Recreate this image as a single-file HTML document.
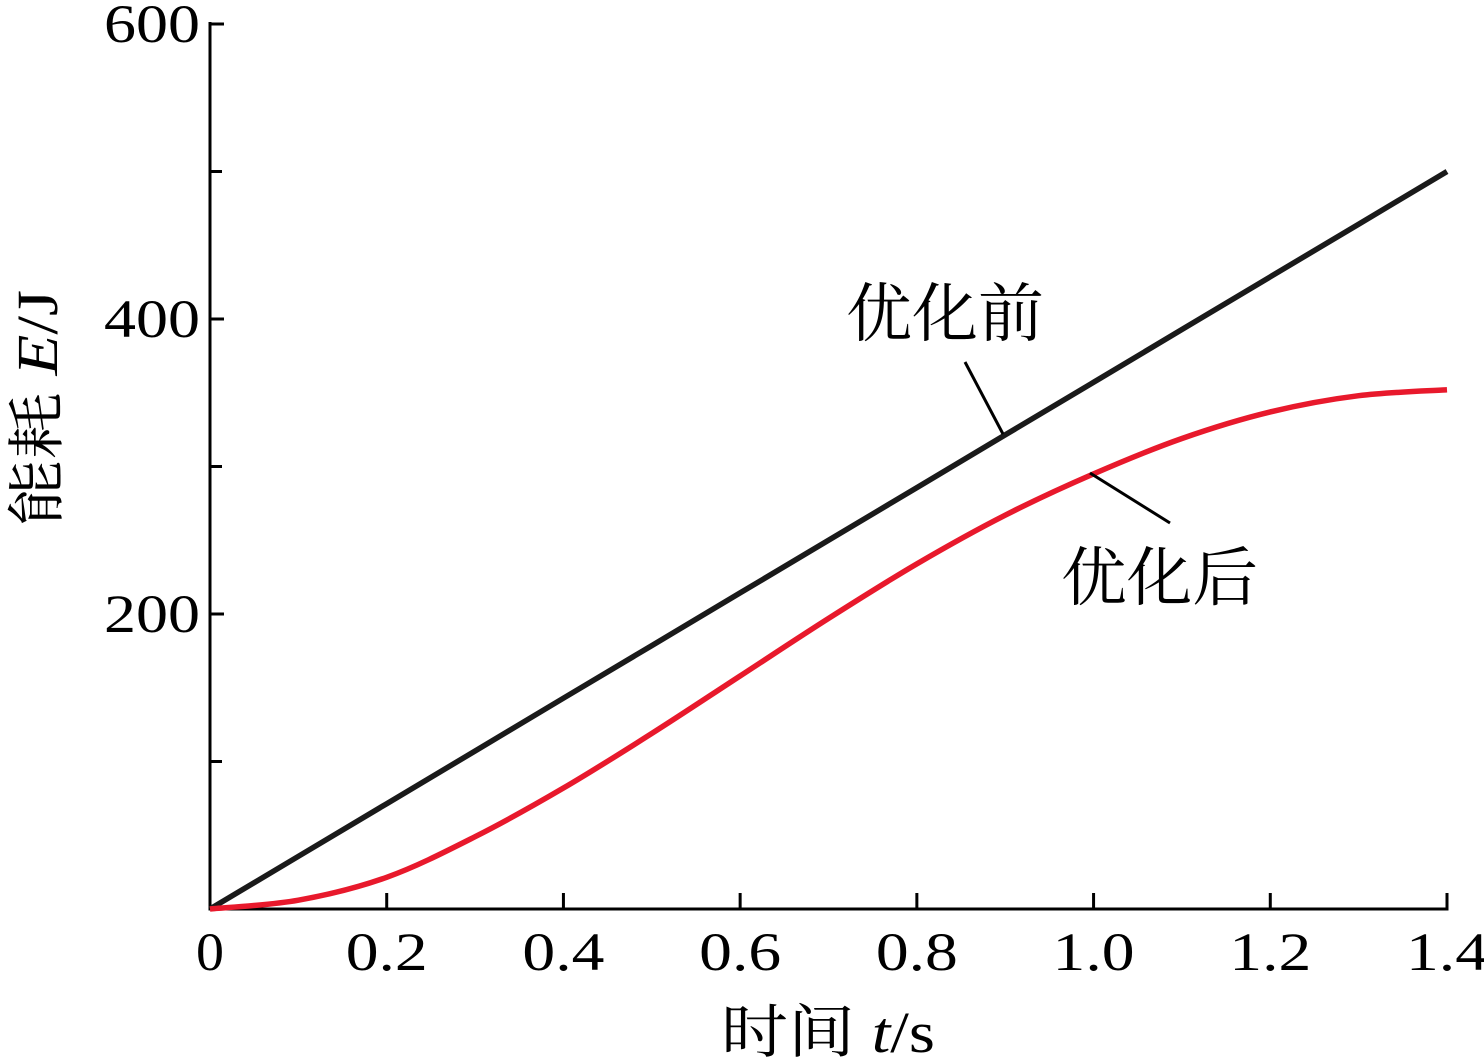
<!DOCTYPE html>
<html><head><meta charset="utf-8"><style>
html,body{margin:0;padding:0;background:#fff;}
svg{display:block;}
text{font-family:"Liberation Serif","Noto Serif CJK SC",serif;fill:#000;}
</style></head><body>
<svg id="chart" width="1484" height="1059" viewBox="0 0 1484 1059" xmlns="http://www.w3.org/2000/svg">
<g id="axes"></g>
<g id="series"></g>
<g id="labels"></g>
</svg>
<script>
const xTicks = [0, 0.2, 0.4, 0.6, 0.8, 1.0, 1.2, 1.4];
const xTickLabels = ["0", "0.2", "0.4", "0.6", "0.8", "1.0", "1.2", "1.4"];
const yTicks = [200, 400, 600];
const yTickLabels = ["200", "400", "600"];
const yMinorTicks = [100, 300, 500];
const timeValues = [0, 0.1, 0.2, 0.3, 0.4, 0.5, 0.6, 0.7, 0.8, 0.9, 1.0, 1.1, 1.2, 1.3, 1.4];
const beforeValues = [0, 35.7, 71.4, 107.1, 142.9, 178.6, 214.3, 250, 285.7, 321.4, 357.1, 392.9, 428.6, 464.3, 500];
const afterValues = [0, 6, 21.5, 49, 82, 119, 158, 197, 234, 267, 295, 319, 337, 348, 352];

const NS = "http://www.w3.org/2000/svg";
const X0 = 210, X1 = 1447, Y0 = 909, Y1 = 24;
function xs(v){ return X0 + v/1.4*(X1-X0); }
function ys(v){ return Y0 - v/600*(Y0-Y1); }
function mk(tag, attrs, parent){
  const e = document.createElementNS(NS, tag);
  for (const k in attrs) e.setAttribute(k, attrs[k]);
  parent.appendChild(e); return e;
}
const axes = document.getElementById('axes');
const series = document.getElementById('series');
const labels = document.getElementById('labels');

const yAxis = mk('line', {x1:X0, y1:Y1-2, x2:X0, y2:Y0+1.5, stroke:'#000','stroke-width':3}, axes);


const xAxis = mk('line', {x1:X0-1.5, y1:Y0, x2:X1+1.5, y2:Y0, stroke:'#000','stroke-width':3}, axes);



xTicks.forEach((v,i)=>{
  const x = xs(v);
  if (i>0){
    const t = mk('line', {x1:x, y1:Y0, x2:x, y2:Y0-16, stroke:'#000','stroke-width':3}, axes);
    
    
  }
  const s = xTickLabels[i];
  const lb = mk('text', {x:x, y:970, 'font-size':54, 'text-anchor':'middle', textLength: s.length===1?28:82, lengthAdjust:'spacingAndGlyphs'}, labels);
  lb.textContent = s;
  
  
});
yTicks.forEach((v,i)=>{
  const y = ys(v);
  const t = mk('line', {x1:X0, y1:y, x2:X0+14, y2:y, stroke:'#000','stroke-width':3}, axes);
  
  
  const lb = mk('text', {x:200, y:y+18, 'font-size':54, 'text-anchor':'end', textLength:96, lengthAdjust:'spacingAndGlyphs'}, labels);
  lb.textContent = yTickLabels[i];
  
  
});
yMinorTicks.forEach(v=>{
  const y = ys(v);
  const t = mk('line', {x1:X0, y1:y, x2:X0+12, y2:y, stroke:'#000','stroke-width':3}, axes);
  
  
});

function pathFrom(vals){
  return timeValues.map((t,i)=>(i?'L':'M')+xs(t).toFixed(1)+','+ys(vals[i]).toFixed(1)).join(' ');
}
function smoothPath(vals){
  const p = timeValues.map((t,i)=>[xs(t), ys(vals[i])]);
  let d = 'M'+p[0][0]+','+p[0][1];
  for (let i=0;i<p.length-1;i++){
    const p0=p[Math.max(0,i-1)], p1=p[i], p2=p[i+1], p3=p[Math.min(p.length-1,i+2)];
    const c1=[p1[0]+(p2[0]-p0[0])/6, p1[1]+(p2[1]-p0[1])/6];
    const c2=[p2[0]-(p3[0]-p1[0])/6, p2[1]-(p3[1]-p1[1])/6];
    d += ' C'+c1.join(',')+' '+c2.join(',')+' '+p2.join(',');
  }
  return d;
}
const lb1 = mk('path', {d:pathFrom(beforeValues), fill:'none', stroke:'#1a1a1a','stroke-width':5.5}, series);


const lb2 = mk('path', {d:smoothPath(afterValues), fill:'none', stroke:'#e8192c','stroke-width':5.5}, series);



const l1 = mk('line', {x1:965, y1:362, x2:1003, y2:434, stroke:'#000','stroke-width':3}, labels);


const t1 = mk('text', {x:846, y:336, 'font-size':64, textLength:198, lengthAdjust:'spacingAndGlyphs'}, labels);
t1.textContent = '优化前';


const l2 = mk('line', {x1:1090, y1:473, x2:1170, y2:523, stroke:'#000','stroke-width':3}, labels);


const t2 = mk('text', {x:1061, y:600, 'font-size':64, textLength:197, lengthAdjust:'spacingAndGlyphs'}, labels);
t2.textContent = '优化后';



const xt = mk('text', {x:828, y:1052, 'font-size':58, 'text-anchor':'middle', textLength:214, lengthAdjust:'spacingAndGlyphs'}, labels);
xt.innerHTML = '时间 <tspan font-style="italic">t</tspan>/s';


const yt = mk('text', {x:0, y:0, 'font-size':58, 'text-anchor':'middle', textLength:236, lengthAdjust:'spacingAndGlyphs', transform:'translate(57,408) rotate(-90)'}, labels);
yt.innerHTML = '能耗 <tspan font-style="italic">E</tspan>/J';


</script>
</body></html>
